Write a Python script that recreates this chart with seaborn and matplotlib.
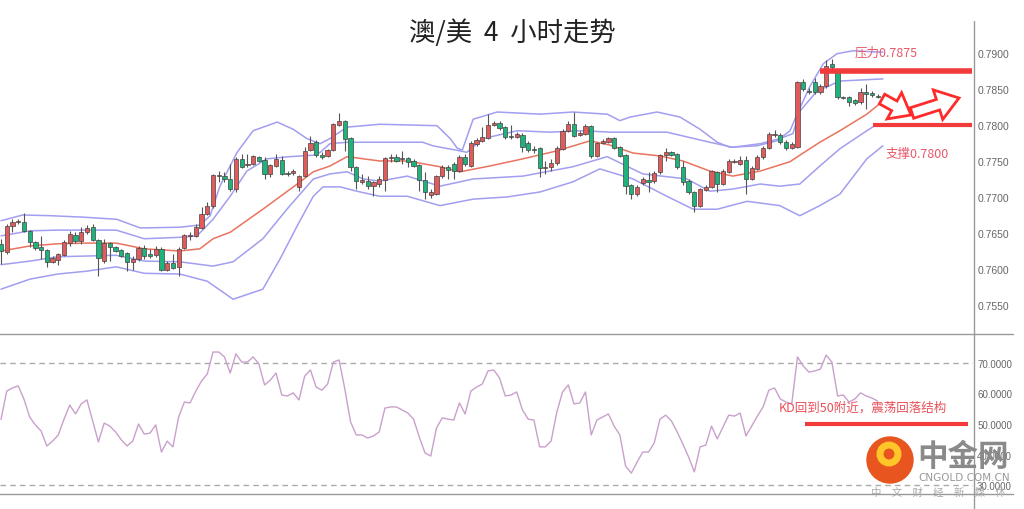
import numpy as np
import pandas as pd
import matplotlib
matplotlib.use("Agg")
import matplotlib.pyplot as plt
import matplotlib.patches as mpatches
import seaborn as sns

# ---- candle data (AUD/USD, 4h) ----
opens = [
    0.7635, 0.7624, 0.7660, 0.7665, 0.7665, 0.7653, 0.7637, 0.7631, 0.7626, 0.7610,
    0.7612, 0.7619, 0.7636, 0.7647, 0.7639, 0.7651, 0.7658, 0.7640, 0.7611, 0.7636,
    0.7631, 0.7626, 0.7622, 0.7610, 0.7614, 0.7629, 0.7621, 0.7619, 0.7628, 0.7599,
    0.7608, 0.7603, 0.7629, 0.7646, 0.7646, 0.7657, 0.7676, 0.7688, 0.7729, 0.7729,
    0.7725, 0.7711, 0.7753, 0.7744, 0.7746, 0.7756, 0.7751, 0.7732, 0.7743, 0.7751,
    0.7733, 0.7733, 0.7714, 0.7729, 0.7765, 0.7776, 0.7758, 0.7757, 0.7765, 0.7800,
    0.7806, 0.7782, 0.7742, 0.7721, 0.7722, 0.7715, 0.7718, 0.7724, 0.7754, 0.7756,
    0.7753, 0.7754, 0.7750, 0.7744, 0.7724, 0.7703, 0.7704, 0.7729, 0.7742, 0.7746,
    0.7736, 0.7756, 0.7743, 0.7774, 0.7778, 0.7782, 0.7800, 0.7803, 0.7797, 0.7785,
    0.7783, 0.7786, 0.7775, 0.7767, 0.7768, 0.7740, 0.7742, 0.7747, 0.7767, 0.7792,
    0.7801, 0.7786, 0.7788, 0.7799, 0.7757, 0.7775, 0.7776, 0.7782, 0.7769, 0.7758,
    0.7717, 0.7704, 0.7719, 0.7724, 0.7722, 0.7735, 0.7758, 0.7762, 0.7760, 0.7742,
    0.7722, 0.7707, 0.7688, 0.7710, 0.7714, 0.7735, 0.7718, 0.7735, 0.7749, 0.7746,
    0.7751, 0.7725, 0.7739, 0.7756, 0.7768, 0.7786, 0.7786, 0.7776, 0.7768, 0.7769,
    0.7860, 0.7847, 0.7860, 0.7846, 0.7854, 0.7885, 0.7875, 0.7839, 0.7839, 0.7835,
    0.7832, 0.7846, 0.7844, 0.7840,
]
highs = [
    0.7642, 0.7663, 0.7669, 0.7669, 0.7678, 0.7654, 0.7639, 0.7646, 0.7628, 0.7618,
    0.7622, 0.7640, 0.7653, 0.7651, 0.7658, 0.7661, 0.7663, 0.7642, 0.7642, 0.7637,
    0.7632, 0.7628, 0.7624, 0.7618, 0.7632, 0.7633, 0.7628, 0.7632, 0.7631, 0.7611,
    0.7621, 0.7631, 0.7649, 0.7651, 0.7663, 0.7686, 0.7693, 0.7732, 0.7736, 0.7735,
    0.7746, 0.7756, 0.7760, 0.7760, 0.7758, 0.7757, 0.7756, 0.7746, 0.7760, 0.7757,
    0.7736, 0.7739, 0.7731, 0.7769, 0.7785, 0.7779, 0.7762, 0.7767, 0.7803, 0.7817,
    0.7807, 0.7783, 0.7743, 0.7732, 0.7729, 0.7722, 0.7729, 0.7756, 0.7760, 0.7760,
    0.7764, 0.7756, 0.7753, 0.7746, 0.7735, 0.7711, 0.7731, 0.7744, 0.7744, 0.7749,
    0.7758, 0.7760, 0.7778, 0.7782, 0.7797, 0.7815, 0.7806, 0.7806, 0.7799, 0.7800,
    0.7790, 0.7789, 0.7778, 0.7771, 0.7769, 0.7750, 0.7753, 0.7771, 0.7794, 0.7806,
    0.7818, 0.7792, 0.7801, 0.7800, 0.7776, 0.7781, 0.7783, 0.7783, 0.7771, 0.7760,
    0.7718, 0.7717, 0.7728, 0.7735, 0.7736, 0.7760, 0.7768, 0.7764, 0.7761, 0.7750,
    0.7725, 0.7708, 0.7712, 0.7717, 0.7737, 0.7736, 0.7739, 0.7753, 0.7753, 0.7757,
    0.7757, 0.7743, 0.7758, 0.7771, 0.7790, 0.7793, 0.7789, 0.7779, 0.7776, 0.7861,
    0.7864, 0.7851, 0.7865, 0.7857, 0.7890, 0.7892, 0.7876, 0.7840, 0.7840, 0.7836,
    0.7851, 0.7857, 0.7847, 0.7843,
]
lows = [
    0.7607, 0.7621, 0.7651, 0.7663, 0.7651, 0.7631, 0.7626, 0.7614, 0.7603, 0.7608,
    0.7606, 0.7618, 0.7632, 0.7636, 0.7635, 0.7649, 0.7639, 0.7590, 0.7608, 0.7611,
    0.7624, 0.7617, 0.7597, 0.7599, 0.7611, 0.7614, 0.7615, 0.7617, 0.7597, 0.7597,
    0.7600, 0.7590, 0.7628, 0.7640, 0.7644, 0.7656, 0.7675, 0.7685, 0.7721, 0.7721,
    0.7708, 0.7707, 0.7740, 0.7742, 0.7744, 0.7749, 0.7725, 0.7728, 0.7742, 0.7731,
    0.7729, 0.7731, 0.7708, 0.7728, 0.7764, 0.7756, 0.7753, 0.7756, 0.7764, 0.7799,
    0.7764, 0.7736, 0.7711, 0.7718, 0.7711, 0.7701, 0.7714, 0.7708, 0.7749, 0.7749,
    0.7746, 0.7742, 0.7742, 0.7708, 0.7697, 0.7699, 0.7703, 0.7726, 0.7725, 0.7725,
    0.7735, 0.7743, 0.7742, 0.7771, 0.7776, 0.7781, 0.7799, 0.7793, 0.7781, 0.7781,
    0.7782, 0.7762, 0.7762, 0.7761, 0.7728, 0.7732, 0.7736, 0.7744, 0.7765, 0.7790,
    0.7783, 0.7785, 0.7786, 0.7754, 0.7756, 0.7774, 0.7775, 0.7767, 0.7756, 0.7704,
    0.7697, 0.7701, 0.7717, 0.7707, 0.7719, 0.7732, 0.7750, 0.7757, 0.7739, 0.7717,
    0.7704, 0.7679, 0.7686, 0.7708, 0.7712, 0.7707, 0.7717, 0.7733, 0.7747, 0.7744,
    0.7704, 0.7724, 0.7737, 0.7753, 0.7767, 0.7783, 0.7774, 0.7765, 0.7767, 0.7768,
    0.7847, 0.7843, 0.7843, 0.7843, 0.7851, 0.7874, 0.7836, 0.7836, 0.7826, 0.7828,
    0.7829, 0.7822, 0.7839, 0.7837,
]
closes = [
    0.7625, 0.7660, 0.7665, 0.7667, 0.7653, 0.7637, 0.7629, 0.7626, 0.7610, 0.7615,
    0.7621, 0.7637, 0.7649, 0.7639, 0.7651, 0.7657, 0.7640, 0.7615, 0.7636, 0.7631,
    0.7625, 0.7618, 0.7610, 0.7614, 0.7629, 0.7618, 0.7618, 0.7628, 0.7599, 0.7608,
    0.7601, 0.7628, 0.7647, 0.7647, 0.7658, 0.7676, 0.7688, 0.7731, 0.7731, 0.7725,
    0.7711, 0.7753, 0.7742, 0.7746, 0.7757, 0.7750, 0.7732, 0.7744, 0.7753, 0.7732,
    0.7732, 0.7736, 0.7729, 0.7764, 0.7775, 0.7758, 0.7756, 0.7765, 0.7801, 0.7806,
    0.7781, 0.7742, 0.7722, 0.7724, 0.7715, 0.7721, 0.7725, 0.7754, 0.7756, 0.7750,
    0.7754, 0.7749, 0.7743, 0.7724, 0.7707, 0.7707, 0.7729, 0.7742, 0.7737, 0.7736,
    0.7756, 0.7746, 0.7775, 0.7779, 0.7783, 0.7800, 0.7803, 0.7796, 0.7783, 0.7783,
    0.7788, 0.7769, 0.7765, 0.7765, 0.7740, 0.7742, 0.7747, 0.7768, 0.7792, 0.7801,
    0.7785, 0.7789, 0.7799, 0.7757, 0.7775, 0.7778, 0.7782, 0.7768, 0.7757, 0.7715,
    0.7704, 0.7714, 0.7725, 0.7721, 0.7733, 0.7758, 0.7762, 0.7758, 0.7742, 0.7721,
    0.7707, 0.7688, 0.7711, 0.7714, 0.7736, 0.7718, 0.7736, 0.7750, 0.7750, 0.7751,
    0.7725, 0.7740, 0.7756, 0.7768, 0.7788, 0.7788, 0.7776, 0.7768, 0.7774, 0.7860,
    0.7850, 0.7846, 0.7846, 0.7854, 0.7882, 0.7881, 0.7839, 0.7837, 0.7832, 0.7831,
    0.7846, 0.7843, 0.7842, 0.7839,
]

# ---- band lines (bar position, price) ----
upper_outer_x = [0, 3.8, 8.6, 14.3, 20.2, 24.3, 31.2, 34.7, 36.5, 38.2, 41.2, 44.0, 48.2, 51.0, 53.4,
                 55.7, 57.4, 60.4, 66.1, 76.1, 78.4, 79.6, 80.5, 82.4, 86.6, 94.1, 99.8, 105.8, 108.0,
                 109.8, 114.5, 118.5, 122.0, 125.0, 127.2, 131.9, 135.4, 137.7, 139.1, 141.2, 143.5,
                 145.9, 148.7, 153.9]
upper_outer = [0.7667, 0.7675, 0.7674, 0.7672, 0.7669, 0.7657, 0.7658, 0.7661, 0.7674, 0.7715, 0.7762,
               0.7792, 0.7804, 0.7794, 0.7781, 0.7774, 0.7781, 0.7797, 0.7801, 0.7799, 0.7781, 0.7768,
               0.7765, 0.7808, 0.7818, 0.7815, 0.7818, 0.7815, 0.7806, 0.7811, 0.7818, 0.7811, 0.7794,
               0.7776, 0.7769, 0.7771, 0.7778, 0.7792, 0.7818, 0.7854, 0.7885, 0.7899, 0.7903, 0.7901]

upper_inner_x = [0, 5.1, 9.9, 15.0, 20.1, 25.0, 31.2, 34.2, 37.0, 40.0, 42.9, 46.4, 50.4, 54.5, 55.7,
                 57.4, 60.4, 66.1, 73.6, 75.4, 80.1, 81.3, 84.1, 90.1, 95.8, 101.6, 106.3, 116.2, 123.7,
                 127.7, 132.5, 135.9, 138.2, 139.4, 142.4, 146.4, 153.9]
upper_inner = [0.7646, 0.7653, 0.7654, 0.7654, 0.7654, 0.7642, 0.7644, 0.7646, 0.7669, 0.7701, 0.7736,
               0.7753, 0.7756, 0.7758, 0.7762, 0.7774, 0.7776, 0.7776, 0.7776, 0.7771, 0.7764, 0.7762,
               0.7781, 0.7792, 0.7790, 0.7792, 0.7790, 0.7790, 0.7776, 0.7769, 0.7774, 0.7781, 0.7788,
               0.7819, 0.7847, 0.7861, 0.7864]

middle_x = [0, 5.1, 9.9, 15.0, 20.1, 25.0, 31.2, 34.7, 37.0, 40.0, 45.7, 51.7, 54.5, 57.4, 60.4, 63.2,
            66.1, 70.9, 76.6, 80.1, 85.3, 91.1, 97.0, 102.8, 106.3, 110.3, 115.0, 119.0, 123.7, 127.7,
            132.5, 137.7, 139.4, 142.9, 146.4, 151.1, 153.9]
middle = [0.7625, 0.7632, 0.7635, 0.7636, 0.7636, 0.7628, 0.7625, 0.7628, 0.7642, 0.7651, 0.7683,
          0.7718, 0.7735, 0.7743, 0.7756, 0.7753, 0.7750, 0.7750, 0.7742, 0.7735, 0.7743, 0.7753,
          0.7764, 0.7778, 0.7772, 0.7761, 0.7757, 0.7750, 0.7736, 0.7729, 0.7736, 0.7749, 0.7758,
          0.7776, 0.7792, 0.7815, 0.7833]

lower_inner_x = [0, 5.1, 9.9, 15.0, 20.1, 25.0, 31.2, 37.0, 40.5, 45.7, 49.9, 54.5, 57.4, 60.4, 63.2,
                 66.1, 70.9, 76.6, 82.4, 91.1, 99.8, 105.8, 112.0, 119.7, 123.7, 127.7, 132.5, 135.9,
                 139.4, 142.9, 146.4, 151.1, 152.9]
lower_inner = [0.7606, 0.7611, 0.7617, 0.7618, 0.7619, 0.7611, 0.7610, 0.7604, 0.7610, 0.7642, 0.7683,
               0.7725, 0.7732, 0.7735, 0.7725, 0.7722, 0.7729, 0.7715, 0.7725, 0.7729, 0.7742, 0.7756,
               0.7732, 0.7725, 0.7708, 0.7711, 0.7718, 0.7715, 0.7718, 0.7743, 0.7767, 0.7792, 0.7801]

lower_outer_x = [0, 5.1, 9.9, 15.0, 20.1, 25.0, 31.2, 36.0, 40.5, 45.7, 48.7, 51.7, 54.5, 56.2, 59.2,
                 62.1, 66.1, 70.9, 76.6, 82.4, 88.3, 94.1, 99.8, 104.5, 110.3, 116.2, 120.8, 125.0,
                 130.2, 135.9, 139.4, 142.9, 146.4, 151.1, 153.9]
lower_outer = [0.7572, 0.7586, 0.7593, 0.7597, 0.7603, 0.7594, 0.7593, 0.7583, 0.7558, 0.7572, 0.7614,
               0.7660, 0.7701, 0.7714, 0.7714, 0.7708, 0.7701, 0.7701, 0.7688, 0.7697, 0.7700, 0.7707,
               0.7721, 0.7739, 0.7725, 0.7701, 0.7683, 0.7683, 0.7694, 0.7688, 0.7674, 0.7688, 0.7704,
               0.7753, 0.7771]

# ---- oscillator (KD) ----
kd = [
    51.5, 60.8, 61.8, 62.5, 58.2, 52.3, 49.7, 47.7, 42.8, 44.4,
    46.4, 51.6, 56.2, 53.3, 56.6, 57.9, 51.0, 44.1, 50.3, 49.3,
    47.4, 44.8, 42.8, 44.4, 50.0, 46.7, 47.0, 49.7, 40.8, 44.4,
    42.5, 52.3, 57.2, 56.9, 60.8, 64.1, 66.4, 73.6, 73.6, 72.0,
    66.7, 73.0, 70.3, 70.3, 72.0, 69.7, 62.8, 64.4, 66.7, 59.5,
    59.2, 60.2, 57.9, 65.7, 67.7, 62.1, 61.1, 63.1, 70.3, 71.0,
    61.5, 50.7, 46.4, 46.4, 45.4, 46.1, 47.4, 55.2, 55.6, 55.6,
    54.6, 53.6, 51.6, 45.7, 40.5, 39.5, 48.7, 52.0, 51.6, 51.3,
    56.9, 53.3, 60.8, 62.1, 63.1, 67.4, 67.7, 65.1, 59.2, 59.5,
    60.5, 54.6, 51.6, 51.3, 42.5, 42.5, 44.4, 53.9, 60.5, 62.8,
    56.6, 56.9, 60.5, 46.4, 51.3, 52.3, 53.3, 49.3, 46.4, 36.2,
    33.9, 37.5, 40.8, 40.8, 43.8, 51.6, 52.9, 51.0, 47.4, 43.4,
    39.2, 34.3, 42.5, 43.1, 49.3, 45.1, 49.0, 52.9, 52.6, 53.6,
    46.1, 49.3, 52.6, 55.6, 61.1, 61.8, 58.2, 57.2, 56.6, 72.0,
    69.0, 67.0, 67.4, 68.0, 72.6, 70.3, 59.2, 59.5, 57.2, 58.2,
    60.2, 59.2, 58.5, 57.5,
]

price_ticks = [0.7550, 0.7600, 0.7650, 0.7700, 0.7750, 0.7800, 0.7850, 0.7900]
kd_ticks = [30, 40, 50, 60, 70]
resistance = 0.7875
support = 0.7800

sns.set_style("white")
plt.rcParams['font.family'] = ['Noto Sans CJK SC', 'DejaVu Sans']

fig = plt.figure(figsize=(10.24, 5.10), dpi=100)
ax = fig.add_axes([0, 0.3431, 0.9502, 0.6138])
ax2 = fig.add_axes([0, 0.0294, 0.9502, 0.3137])

# candles
idx = np.arange(len(closes))
o = np.array(opens)
c = np.array(closes)
up = c >= o
body_colors = np.where(up, '#e25b5b', '#1db37a')
ax.vlines(idx, lows, highs, color='#555555', lw=0.8, zorder=2)
ax.bar(idx, np.maximum(np.abs(c - o), 0.00004), bottom=np.minimum(o, c), width=0.74,
       color=body_colors, edgecolor='#444444', linewidth=0.5, zorder=3)

# bands
band_lines = [
    (upper_outer_x, upper_outer, '#a29ef0'),
    (upper_inner_x, upper_inner, '#a29ef0'),
    (middle_x, middle, '#ea735f'),
    (lower_inner_x, lower_inner, '#a29ef0'),
    (lower_outer_x, lower_outer, '#a29ef0'),
]
for bx, by, colr in band_lines:
    sns.lineplot(x=bx, y=by, ax=ax, color=colr, lw=1.1, legend=False, zorder=1)

# support / resistance
ax.hlines(resistance, 142.9, 169.5, color='#f23b3b', lw=4, zorder=4)
ax.hlines(support, 152.2, 169.5, color='#f23b3b', lw=3, zorder=4)
ax.text(149.0, 0.7901, '压力0.7875', color='#e8596b', fontsize=9, va='center', ha='left')
ax.text(154.3, 0.7761, '支撑0.7800', color='#e8596b', fontsize=9, va='center', ha='left')

ax.set_xlim(-0.1745, 169.63)
ax.set_ylim(0.75097, 0.79444)
ax.set_xticks([])
ax.set_yticks(price_ticks)
ax.set_yticklabels([f'{v:.4f}' for v in price_ticks], family='Liberation Sans')
ax.yaxis.tick_right()
ax.tick_params(axis='y', length=0, pad=3, labelsize=7.5, labelcolor='#666666')
ax.set_xlabel('')
ax.set_ylabel('')
for s in ax.spines.values():
    s.set_visible(False)

# lower panel
ax2.axhline(70, ls=(0, (4, 3)), color='#aaaaaa', lw=1)
ax2.axhline(30, ls=(0, (4, 3)), color='#aaaaaa', lw=1)
sns.lineplot(x=idx, y=kd, ax=ax2, color='#c9a0cc', lw=1, legend=False)
ax2.hlines(50, 140.3, 168.8, color='#f23b3b', lw=3, zorder=4)
ax2.text(135.8, 55.6, 'KD回到50附近，震荡回落结构', color='#e8505a', fontsize=9,
         va='center', ha='left', zorder=5)
ax2.set_xlim(-0.1745, 169.63)
ax2.set_ylim(27.05, 79.5)
ax2.set_xticks([])
ax2.set_yticks(kd_ticks)
ax2.set_yticklabels([f'{v:.4f}' for v in kd_ticks], family='Liberation Sans')
ax2.yaxis.tick_right()
ax2.tick_params(axis='y', length=0, pad=3, labelsize=7, labelcolor='#666666')
ax2.set_xlabel('')
ax2.set_ylabel('')
for s in ax2.spines.values():
    s.set_visible(False)

# overlay in pixel coordinates: frame, arrows, watermark
ov = fig.add_axes([0, 0, 1, 1])
ov.set_xlim(0, 1024)
ov.set_ylim(510, 0)
ov.axis('off')
ov.patch.set_alpha(0)
ov.plot([0, 1013], [335, 335], color='#999999', lw=1)
ov.plot([0, 1013], [495, 495], color='#999999', lw=1)
ov.plot([974, 974], [22, 510], color='#999999', lw=1)

ov.add_patch(mpatches.FancyArrow(882, 100, 29, 16, width=11, head_width=30, head_length=19,
                                 length_includes_head=True, fc='white', ec='#ff2a2a', lw=2))
ov.add_patch(mpatches.FancyArrow(912, 114, 47, -15, width=11, head_width=31, head_length=22,
                                 length_includes_head=True, fc='white', ec='#ff2a2a', lw=2))

fig.text(0.5, 1 - 33 / 510, '澳/美  4  小时走势', ha='center', va='center',
         fontsize=19, color='#222222')

ov.add_patch(mpatches.Circle((890, 461), 23, color='#e8551e'))
ov.add_patch(mpatches.Circle((889, 455), 9, fc='none', ec='#ffc62a', lw=5))
ov.text(963, 457, '中金网', fontsize=22, fontweight='bold', color='#8a8a8a', ha='center', va='center')
ov.text(964, 478, 'CNGOLD.COM.CN', fontsize=7.5, color='#999999', ha='center', va='center',
        family='DejaVu Sans')
ov.text(938, 493, '中\u3000文\u3000财\u3000经\u3000新\u3000媒\u3000体', fontsize=7.5,
        color='#aaaaaa', ha='center', va='center')

fig.savefig('out.png', dpi=100, facecolor='white')
